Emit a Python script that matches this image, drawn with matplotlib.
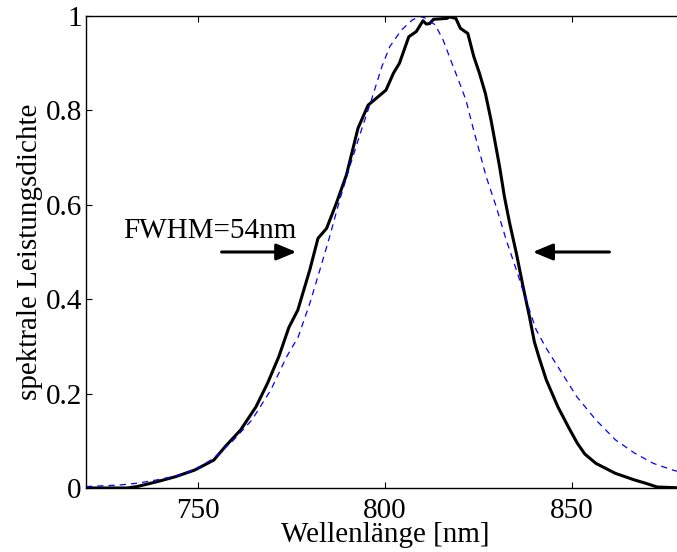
import matplotlib
matplotlib.use('Agg')
import matplotlib.pyplot as plt
import numpy as np

plt.rcParams['font.family'] = ['Liberation Serif', 'DejaVu Serif']

# measured spectrum (black)
wl_meas = [720, 731, 733.7, 738.9, 744.0, 749.1, 754.2, 757.3, 761.4, 765.5, 768.6,
           771.6, 774.3, 776.7, 779.9, 782.1, 784.4, 787.0, 789.7, 792.8, 795.5,
           798.2, 800.3, 802.3, 803.9, 806.4, 808.4, 810.2, 811.1, 812.0, 813.0,
           816.6, 817.3, 819.0, 820.2, 822.2, 823.8, 825.3, 826.9, 828.4, 830.7,
           832.0, 833.4, 835.2, 837.0, 838.7, 840.0, 841.2, 843.2, 846.3, 849.4,
           851.5, 853.5, 856.5, 861.7, 866.8, 869.8, 872.9, 880]
psd_meas = [0, 0, 0.003, 0.013, 0.024, 0.038, 0.059, 0.088, 0.123, 0.172, 0.222,
            0.278, 0.34, 0.377, 0.462, 0.529, 0.55, 0.603, 0.663, 0.762, 0.811,
            0.829, 0.843, 0.879, 0.9, 0.956, 0.967, 0.99, 0.983, 0.984, 0.993,
            0.995, 0.998, 0.995, 0.974, 0.963, 0.914, 0.879, 0.836, 0.78, 0.681,
            0.617, 0.561, 0.497, 0.426, 0.363, 0.31, 0.278, 0.229, 0.172, 0.125,
            0.095, 0.072, 0.052, 0.031, 0.017, 0.01, 0.002, 0]

# fitted curve (blue dashed)
wl_fit = [720, 728.6, 733.7, 738.9, 744.0, 749.1, 754.2, 759.3, 764.4, 769.5, 773.7,
          776.8, 779.9, 782.6, 785.2, 787.9, 790.6, 793.7, 796.4, 799.2, 801.3,
          804.4, 807.4, 809.5, 811.0, 813.5, 815.6, 817.6, 819.7, 821.7, 823.7,
          827.1, 829.8, 832.5, 835.2, 837.8, 840.5, 843.2, 846.3, 851.4, 856.5,
          861.7, 866.8, 871.9, 877.0, 880]
psd_fit = [0.003, 0.006, 0.01, 0.017, 0.025, 0.038, 0.063, 0.1, 0.144, 0.208, 0.278,
           0.32, 0.391, 0.462, 0.532, 0.61, 0.681, 0.758, 0.822, 0.893, 0.935,
           0.97, 0.992, 0.999, 0.995, 0.981, 0.949, 0.907, 0.864, 0.822, 0.76,
           0.66, 0.596, 0.525, 0.462, 0.398, 0.335, 0.296, 0.257, 0.193, 0.144,
           0.102, 0.074, 0.052, 0.038, 0.032]

xticks = [750, 800, 850]
yticks = [0, 0.2, 0.4, 0.6, 0.8, 1]
yticklabels = ['0', '0.2', '0.4', '0.6', '0.8', '1']

fig = plt.figure(figsize=(6.77, 5.52), dpi=100)
ax = fig.add_axes([0.127, 0.116, 0.883, 0.855])

ax.plot(wl_meas, psd_meas, color='black', lw=2.2)
ax.plot(wl_fit, psd_fit, color='blue', lw=0.9, dashes=(5, 4))

# FWHM arrows
arrow = dict(arrowstyle='-|>,head_length=0.6,head_width=0.25', color='black',
             lw=2.2, mutation_scale=20, shrinkA=0, shrinkB=0)
ax.annotate('', xy=(776.3, 0.5), xytext=(756.3, 0.5), arrowprops=arrow)
ax.annotate('', xy=(839.6, 0.5), xytext=(860.1, 0.5), arrowprops=arrow)
ax.text(730, 0.53, 'FWHM=54nm', fontsize=21)

ax.set_xlim(720, 880)
ax.set_ylim(0, 1)
ax.set_xticks(xticks)
ax.set_yticks(yticks)
ax.set_yticklabels(yticklabels)
ax.tick_params(direction='in', length=4, width=0.8, top=True, right=True, labelsize=21)
ax.tick_params(axis='x', pad=7)
ax.tick_params(axis='y', pad=3)
for s in ax.spines.values():
    s.set_linewidth(1.0)

ax.set_xlabel('Wellenlänge [nm]', fontsize=21, labelpad=-1)
ax.set_ylabel('spektrale Leistungsdichte', fontsize=21, labelpad=2)

fig.savefig('out.png', dpi=100)
